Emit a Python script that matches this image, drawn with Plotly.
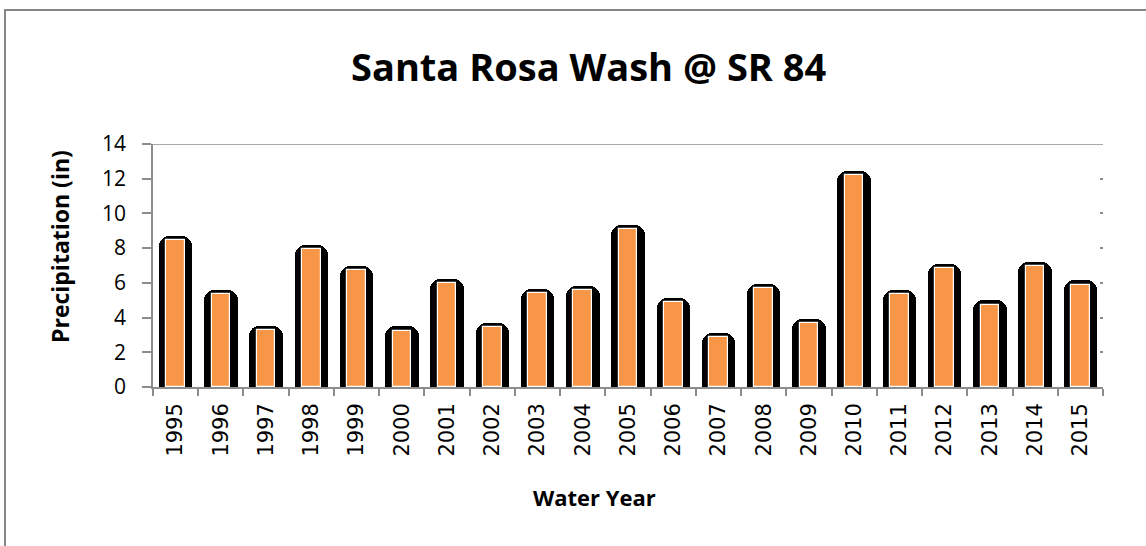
import plotly.graph_objects as go

years = [str(y) for y in range(1995, 2016)]
precip = [8.45, 5.35, 3.3, 7.95, 6.75, 3.25, 6.0, 3.45, 5.4, 5.6, 9.1,
          4.9, 2.9, 5.7, 3.7, 12.2, 5.35, 6.85, 4.75, 6.95, 5.9]
shadow_extra = 0.24
y_ticks = list(range(0, 16, 2))

W, H = 1146, 546
L, R, T, B = 153, 1103, 144, 387  # plot area pixel box


def px_x(px):
    return (px - L) / (R - L)


def px_y(py):
    return (B - py) / (B - T)


fig = go.Figure()
fig.add_trace(go.Bar(
    x=years, y=[v + shadow_extra for v in precip], width=0.74,
    marker=dict(color="black", line=dict(width=0), cornerradius=10),
    hoverinfo="skip", showlegend=False))
fig.add_trace(go.Bar(
    x=years, y=precip, width=0.41,
    marker=dict(color="#F79646", line=dict(color="white", width=1.2)),
    showlegend=False))
# invisible trace to make the right-hand tick axis render
fig.add_trace(go.Scatter(x=[years[0]], y=[0], yaxis="y2", mode="markers",
                         marker=dict(opacity=0), hoverinfo="skip", showlegend=False))

fig.update_layout(
    width=W, height=H,
    margin=dict(l=L, r=W - R, t=T, b=H - B),
    paper_bgcolor="white", plot_bgcolor="white",
    barmode="overlay", bargap=0,
    font=dict(family="Open Sans", color="black"),
    xaxis=dict(
        type="category", showgrid=False, showline=True, linecolor="#8c8c8c", linewidth=1.5,
        ticks="outside", tickson="boundaries", ticklen=7, tickcolor="#8c8c8c", tickwidth=1.5,
        tickangle=-90, ticklabelstandoff=6,
        tickfont=dict(family="DejaVu Sans", size=21, color="black"),
        range=[-0.5, 20.5]),
    yaxis=dict(
        range=[0, 14], tickvals=y_ticks, showgrid=False, zeroline=False,
        showline=True, linecolor="#8c8c8c", linewidth=1.5,
        ticks="outside", ticklen=9, tickcolor="#8c8c8c", tickwidth=1.5,
        ticklabelstandoff=12,
        tickfont=dict(family="Open Sans", size=21, color="black")),
    yaxis2=dict(
        range=[0, 14], tickvals=y_ticks[1:-1], overlaying="y", side="right",
        showgrid=False, zeroline=False, showline=False, showticklabels=False,
        ticks="inside", ticklen=3, tickcolor="#8c8c8c", tickwidth=1.5),
    shapes=[
        dict(type="line", xref="paper", yref="y", x0=0, x1=1, y0=14, y1=14,
             line=dict(color="#8c8c8c", width=1.5)),
        dict(type="rect", xref="paper", yref="paper",
             x0=px_x(5), x1=px_x(W + 10), y0=px_y(10), y1=px_y(H + 10),
             line=dict(color="#868686", width=2)),
    ],
    annotations=[
        dict(text="<b>Santa Rosa Wash @ SR 84</b>", xref="paper", yref="paper",
             x=px_x(588), y=px_y(66), showarrow=False,
             font=dict(family="Open Sans", size=38, color="black"),
             xanchor="center", yanchor="middle"),
        dict(text="<b>Precipitation (in)</b>", xref="paper", yref="paper",
             x=px_x(60), y=px_y(247), showarrow=False, textangle=-90,
             font=dict(family="Open Sans", size=23, color="black"),
             xanchor="center", yanchor="middle"),
        dict(text="<b>Water Year</b>", xref="paper", yref="paper",
             x=px_x(594), y=px_y(497), showarrow=False,
             font=dict(family="Open Sans", size=22, color="black"),
             xanchor="center", yanchor="middle"),
    ],
)

page_fix = ("document.documentElement.style.overflow='hidden';"
            "document.body.style.margin='0';"
            "document.body.style.overflow='hidden';")
fig.write_html("out.html", post_script=page_fix, config={"displayModeBar": False})
